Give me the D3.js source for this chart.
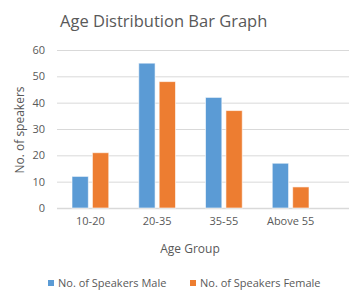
<!DOCTYPE html>
<html><head><meta charset="utf-8">
<script src="https://cdn.jsdelivr.net/npm/d3@7"></script>
<style>body{margin:0;background:#fff}svg{display:block;font-family:"Open Sans",sans-serif}</style>
</head><body><svg id="c" width="349" height="308"></svg>
<script>
const categories = ["10-20", "20-35", "35-55", "Above 55"];
const seriesNames = ["No. of Speakers Male", "No. of Speakers Female"];
const male = [12, 55, 42, 17];
const female = [21, 48, 37, 8];
const yTicks = [0, 10, 20, 30, 40, 50, 60];
const colors = ["#5B9BD5", "#ED7D31"];
const textColor = "#595959";

const svg = d3.select("#c");
const x0 = d3.scaleBand().domain(categories).range([57, 324]).paddingInner(0).paddingOuter(0);
const x1 = d3.scaleBand().domain([0, 1]).range([15, x0.bandwidth() - 15]).paddingInner(0.2).paddingOuter(0);
const y = d3.scaleLinear().domain([0, 60]).range([208, 50]);

// gridlines
svg.append("g").selectAll("line").data(yTicks).join("line")
  .attr("x1", 57).attr("x2", 349)
  .attr("y1", d => y(d) + 0.5).attr("y2", d => y(d) + 0.5)
  .attr("stroke", d => d === 0 ? "#d9d9d9" : "#d9d9d9").attr("stroke-width", d => d === 0 ? 1.5 : 1);

// y axis labels
const yAxis = d3.axisLeft(y).tickValues(yTicks).tickSize(0).tickPadding(0);
const ya = svg.append("g").attr("transform", "translate(45,0)").call(yAxis);
ya.select(".domain").remove();
ya.selectAll("text").attr("fill", textColor).style("font-size", "11px").style("font-family", "Open Sans");

// x axis labels
const xAxis = d3.axisBottom(x0).tickSize(0).tickPadding(0);
const xa = svg.append("g").attr("transform", "translate(0,217)").call(xAxis);
xa.select(".domain").remove();
xa.selectAll("text").attr("fill", textColor).style("font-size", "11px").style("font-family", "Open Sans");

// bars
const data = [male, female];
data.forEach((vals, si) => {
  svg.append("g").selectAll("rect").data(vals).join("rect")
    .attr("x", (d, i) => x0(categories[i]) + x1(si))
    .attr("width", x1.bandwidth())
    .attr("y", d => y(d))
    .attr("height", d => y(0) - y(d))
    .attr("fill", colors[si])
    .attr("stroke", "#fff").attr("stroke-opacity", 0.6).attr("stroke-width", 1);
});

// title
svg.append("text").attr("x", 60).attr("y", 27).text("Age Distribution Bar Graph")
  .attr("fill", textColor).style("font-size", "16.5px");

// axis titles
svg.append("text").attr("x", 190).attr("y", 253).attr("text-anchor", "middle").text("Age Group")
  .attr("fill", textColor).style("font-size", "12px");
svg.append("text").attr("transform", "translate(24,130) rotate(-90)").attr("text-anchor", "middle")
  .text("No. of speakers").attr("fill", textColor).style("font-size", "12px");

// legend
const legX = [48, 190];
seriesNames.forEach((n, i) => {
  svg.append("rect").attr("x", legX[i]).attr("y", 280).attr("width", 6).attr("height", 6).attr("fill", colors[i]);
  svg.append("text").attr("x", legX[i] + 10).attr("y", 287).text(n).attr("fill", textColor).style("font-size", "11px");
});
</script></body></html>
